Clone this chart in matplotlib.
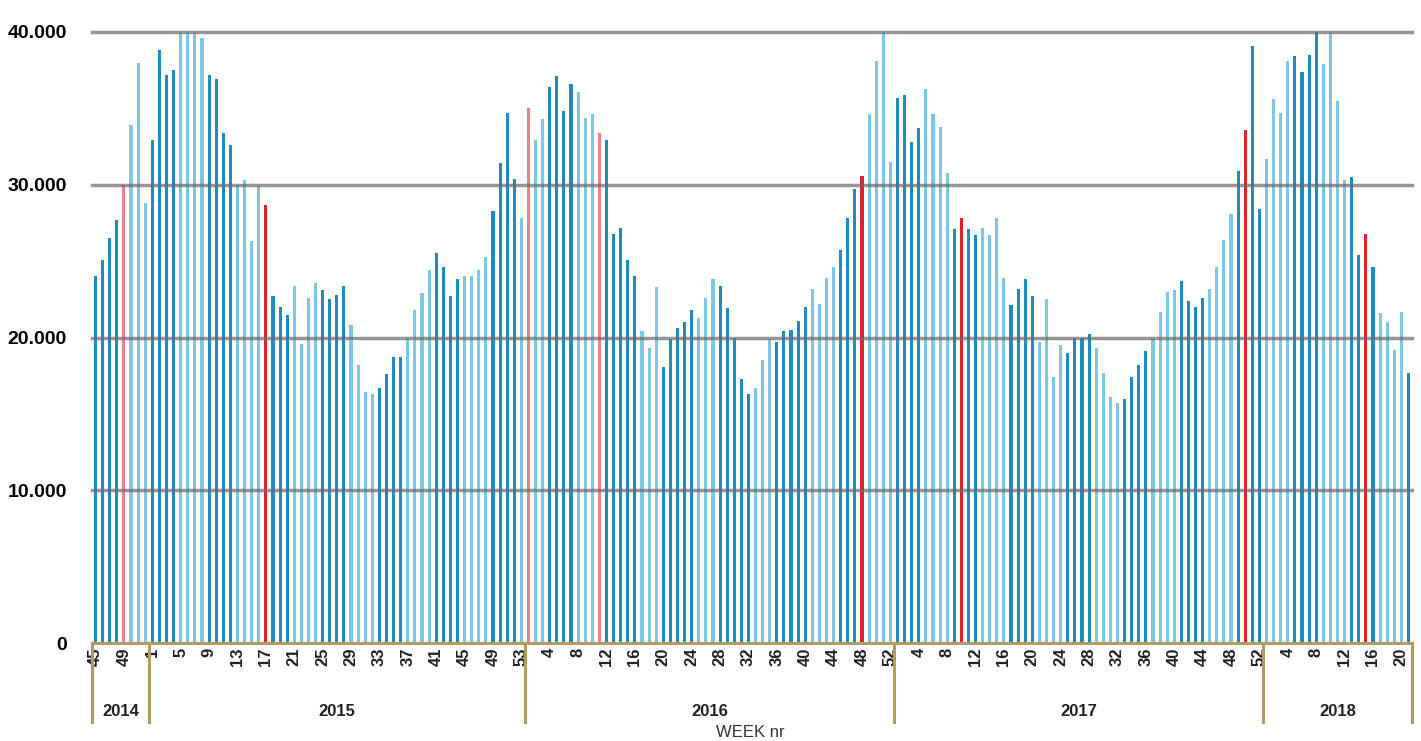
import matplotlib
matplotlib.use("Agg")
import matplotlib.pyplot as plt
from matplotlib.transforms import blended_transform_factory

# ---------------- data ----------------
year_list = [2014, 2015, 2016, 2017, 2018]
weeks_2014 = list(range(45, 53))
weeks_2015 = list(range(1, 54))
weeks_2016 = list(range(1, 53))
weeks_2017 = list(range(1, 53))
weeks_2018 = list(range(1, 22))

# weekly values (thousands)
values_2014 = [24.0, 25.1, 26.5, 27.7, 30.0, 33.9, 38.0, 28.8]
values_2015 = [32.9, 38.8, 37.2, 37.5, 40.6, 41.0, 40.6, 39.6, 37.2, 36.9,
               33.4, 32.6, 30.0, 30.3, 26.3, 29.9, 28.7, 22.7, 22.0, 21.5,
               23.4, 19.6, 22.6, 23.6, 23.1, 22.5, 22.8, 23.4, 20.8, 18.2,
               16.4, 16.3, 16.7, 17.6, 18.7, 18.7, 20.0, 21.8, 22.9, 24.4,
               25.5, 24.6, 22.7, 23.8, 24.0, 24.0, 24.4, 25.3, 28.3, 31.4,
               34.7, 30.4, 27.8]
values_2016 = [35.0, 32.9, 34.3, 36.4, 37.1, 34.8, 36.6, 36.1, 34.4, 34.6,
               33.4, 32.9, 26.8, 27.2, 25.1, 24.0, 20.4, 19.3, 23.3, 18.1,
               19.9, 20.6, 21.0, 21.8, 21.3, 22.6, 23.8, 23.4, 21.9, 20.0,
               17.3, 16.3, 16.7, 18.5, 19.9, 19.7, 20.4, 20.5, 21.1, 22.0,
               23.2, 22.2, 23.9, 24.6, 25.7, 27.8, 29.7, 30.6, 34.6, 38.1,
               40.5, 31.5]
values_2017 = [35.7, 35.9, 32.8, 33.7, 36.3, 34.6, 33.8, 30.8, 27.1, 27.8,
               27.1, 26.7, 27.2, 26.7, 27.8, 23.9, 22.1, 23.2, 23.8, 22.7,
               19.7, 22.5, 17.4, 19.5, 19.0, 20.0, 20.0, 20.2, 19.3, 17.7,
               16.1, 15.7, 16.0, 17.4, 18.2, 19.1, 19.9, 21.7, 23.0, 23.1,
               23.7, 22.4, 22.0, 22.6, 23.2, 24.6, 26.4, 28.1, 30.9, 33.6,
               39.1, 28.4]
values_2018 = [31.7, 35.6, 34.7, 38.1, 38.4, 37.4, 38.5, 40.3, 37.9, 40.4,
               35.5, 30.3, 30.5, 25.4, 26.8, 24.6, 21.6, 21.0, 19.2, 21.7,
               17.7]

# period group per week: D = dark period, L = light period,
# P = marked week in light period, R = marked week in dark period
groups_2014 = "DDDDPLLL"
groups_2015 = ("DDDDLLLLDDDDLLLLRDDDLLLLDDDDLLLLDDDDLLLLDDDDLLLLDDDD" + "L")
groups_2016 = ("PLLDDDDLLLPDDDDDLLLDDDDDLLLDDDDDLLLDDDDDLLLLDDDRLLLL")
groups_2017 = ("DDDDLLLLDRDDLLLLDDDDLLLLDDDDLLLLDDDDLLLLDDDDLLLLDRDD")
groups_2018 = "LLLLDDDDLLLLDDRDLLLLD"

y_ticks = [0, 10000, 20000, 30000, 40000]
y_tick_labels = ["0", "10.000", "20.000", "30.000", "40.000"]
x_title = "WEEK nr"

# ---------------- assemble ----------------
weeks = weeks_2014 + weeks_2015 + weeks_2016 + weeks_2017 + weeks_2018
values = [v * 1000 for v in values_2014 + values_2015 + values_2016 + values_2017 + values_2018]
groups = groups_2014 + groups_2015 + groups_2016 + groups_2017 + groups_2018
year_counts = [len(weeks_2014), len(weeks_2015), len(weeks_2016), len(weeks_2017), len(weeks_2018)]
n = len(weeks)

palette = {"D": "#1f8cbf", "L": "#7cc7e6", "P": "#ef7f8c", "R": "#e3202e"}
colors = [palette[g] for g in groups]

# ---------------- figure ----------------
W, H = 1421, 741
fig = plt.figure(figsize=(W / 100, H / 100), dpi=100)
ax = fig.add_axes([92 / W, (H - 643) / H, 1320 / W, 611 / H])

x = list(range(n))
ax.bar(x, values, width=0.44, color=colors, zorder=2, linewidth=0)

ax.set_xlim(-0.5, n - 0.5)
ax.set_ylim(0, 40000)

for yv in y_ticks[1:]:
    ax.axhline(yv, color="#6a6a6a", alpha=0.7, linewidth=2.5, zorder=3, clip_on=False)

for s in ["top", "right", "left"]:
    ax.spines[s].set_visible(False)
ax.spines["bottom"].set_color("#b39c62")
ax.spines["bottom"].set_linewidth(2.2)
ax.spines["bottom"].set_zorder(4)

ax.set_yticks(y_ticks)
ax.set_yticklabels(y_tick_labels, fontsize=14, fontweight="bold", family="Liberation Sans")
ax.tick_params(axis="y", length=0, pad=18)
ax.set_xticks([])

trans = blended_transform_factory(ax.transData, ax.transAxes)
ax_h = 611.0

# week labels every 4th bar
for i in range(0, n, 4):
    ax.text(i, -5 / ax_h, str(weeks[i]), rotation=90, ha="center", va="top",
            fontsize=12, fontweight="bold", family="Liberation Sans",
            color="#222222", transform=trans, clip_on=False)

# year separators and labels
start = 0
bounds = [-0.5]
for yr, cnt in zip(year_list, year_counts):
    center = start + (cnt - 1) / 2
    ax.text(center, -68 / ax_h, str(yr), ha="center", va="center",
            fontsize=12, fontweight="bold", family="Liberation Sans",
            color="#222222", transform=trans, clip_on=False)
    start += cnt
    bounds.append(start - 0.5)

for b in bounds:
    ax.plot([b, b], [0, -79 / ax_h], color="#b39c62", linewidth=2.2,
            transform=trans, clip_on=False, zorder=4)

fig.text(750 / W, 1 / H, x_title, ha="center", va="bottom",
         fontsize=12, family="Liberation Sans", color="#333333")

fig.savefig("out.png", dpi=100)
